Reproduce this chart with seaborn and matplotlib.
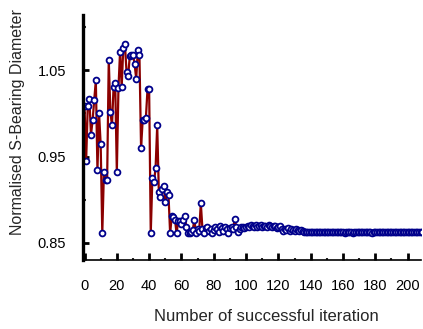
import matplotlib
matplotlib.use("Agg")
import matplotlib.pyplot as plt
import seaborn as sns
import pandas as pd
from matplotlib.ticker import FixedLocator

# Normalised S-bearing diameter per successful iteration
diameter = [
    1.008, 0.945, 1.008, 1.016, 0.975, 0.992, 1.015, 1.038, 0.934, 1.000,
    0.964, 0.861, 0.932, 0.923, 0.923, 1.062, 1.002, 0.986, 1.031, 1.035,
    0.932, 1.029, 1.071, 1.030, 1.076, 1.080, 1.048, 1.043, 1.066, 1.068,
    1.068, 1.057, 1.040, 1.073, 1.067, 0.960, 0.992, 0.992, 0.995, 1.028,
    1.028, 0.861, 0.925, 0.920, 0.937, 0.986, 0.909, 0.903, 0.912, 0.916,
    0.897, 0.909, 0.905, 0.861, 0.881, 0.880, 0.877, 0.861, 0.876, 0.876,
    0.872, 0.877, 0.881, 0.869, 0.861, 0.861, 0.863, 0.865, 0.877, 0.862,
    0.866, 0.864, 0.896, 0.866, 0.862, 0.867, 0.868, 0.864, 0.866, 0.862,
    0.865, 0.868, 0.866, 0.863, 0.870, 0.867, 0.864, 0.868, 0.866, 0.862,
    0.867, 0.869, 0.866, 0.878, 0.868, 0.863, 0.866, 0.868, 0.869, 0.867,
    0.869, 0.870, 0.869, 0.871, 0.870, 0.869, 0.871, 0.868, 0.870, 0.871,
    0.869, 0.870, 0.870, 0.868, 0.871, 0.870, 0.869, 0.870, 0.870, 0.867,
    0.869, 0.870, 0.866, 0.864, 0.866, 0.865, 0.867, 0.864, 0.866, 0.865,
    0.864, 0.866, 0.865, 0.864, 0.865, 0.864, 0.863, 0.863, 0.863, 0.863,
    0.863, 0.863, 0.863, 0.863, 0.863, 0.863, 0.863, 0.863, 0.863, 0.863,
    0.863, 0.863, 0.863, 0.863, 0.863, 0.863, 0.863, 0.863, 0.863, 0.863,
    0.863, 0.862, 0.863, 0.863, 0.863, 0.863, 0.862, 0.863, 0.863, 0.863,
    0.863, 0.863, 0.863, 0.863, 0.863, 0.863, 0.863, 0.863, 0.862, 0.863,
    0.863, 0.863, 0.863, 0.863, 0.863, 0.863, 0.863, 0.863, 0.863, 0.863,
    0.863, 0.863, 0.863, 0.863, 0.863, 0.863, 0.863, 0.863, 0.863, 0.863,
    0.863, 0.863, 0.863, 0.863, 0.863, 0.863, 0.863, 0.863, 0.863, 0.863,
]
iteration = list(range(len(diameter)))

x_major = [0, 20, 40, 60, 80, 100, 120, 140, 160, 180, 200]
x_minor = [10, 30, 50, 70, 90, 110, 130, 150, 170, 190]
y_major = [0.85, 0.95, 1.05]
y_major_labels = ["0.85", "0.95", "1.05"]
y_minor = [0.90, 1.00, 1.10]

sns.set_theme(style="ticks")
plt.rcParams['font.family'] = ['Liberation Sans', 'DejaVu Sans']

fig = plt.figure(figsize=(4.23, 3.29), dpi=100)
ax = fig.add_axes([0.196, 0.2097, 0.800, 0.7443])

df = pd.DataFrame({"iteration": iteration, "diameter": diameter})
sns.lineplot(data=df, x="iteration", y="diameter", ax=ax, estimator=None,
             color="#8b0000", linewidth=1.6, marker="o", markersize=4.2,
             markerfacecolor="white", markeredgecolor="#00008b",
             markeredgewidth=1.3)

ax.set_xlim(-1, 208.5)
ax.set_ylim(0.8303, 1.1136)

ax.xaxis.set_major_locator(FixedLocator(x_major))
ax.xaxis.set_minor_locator(FixedLocator(x_minor))
ax.yaxis.set_major_locator(FixedLocator(y_major))
ax.yaxis.set_minor_locator(FixedLocator(y_minor))
ax.set_xticklabels([str(v) for v in x_major])
ax.set_yticklabels(y_major_labels)

for s in ["top", "right"]:
    ax.spines[s].set_visible(False)
ax.spines["left"].set_linewidth(2.4)
ax.spines["bottom"].set_linewidth(1.2)
ax.spines["left"].set_color("black")
ax.spines["bottom"].set_color("black")

ax.tick_params(axis="x", which="major", direction="in", length=5, width=2,
               pad=14, labelsize=10.5, colors="black")
ax.tick_params(axis="x", which="minor", direction="in", length=1.5, width=1.5)
ax.tick_params(axis="y", which="major", direction="in", length=4.5, width=2,
               pad=12, labelsize=10.5, colors="black")
ax.tick_params(axis="y", which="minor", direction="in", length=2, width=1.5)

ax.set_xlabel("Number of successful iteration", fontsize=12)
ax.set_ylabel("Normalised S-Bearing Diameter", fontsize=11.5)
ax.xaxis.set_label_coords(0.543, -0.200)
ax.yaxis.set_label_coords(-0.172, 0.565)

fig.savefig("out.png", dpi=100)
